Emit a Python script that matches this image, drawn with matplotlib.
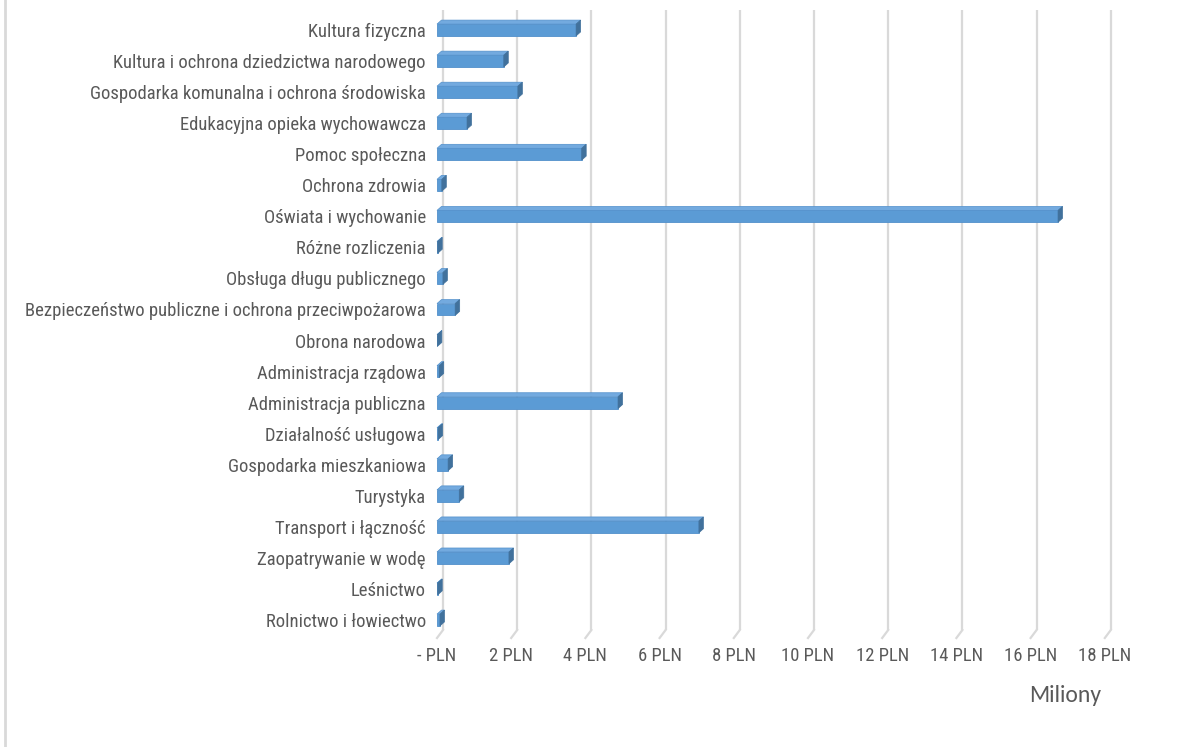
import matplotlib
matplotlib.use("Agg")
import matplotlib.pyplot as plt
from matplotlib import font_manager
from matplotlib.patches import Polygon
from matplotlib.lines import Line2D

categories = [
    "Rolnictwo i łowiectwo",
    "Leśnictwo",
    "Zaopatrywanie w wodę",
    "Transport i łączność",
    "Turystyka",
    "Gospodarka mieszkaniowa",
    "Działalność usługowa",
    "Administracja publiczna",
    "Administracja rządowa",
    "Obrona narodowa",
    "Bezpieczeństwo publiczne i ochrona przeciwpożarowa",
    "Obsługa długu publicznego",
    "Różne rozliczenia",
    "Oświata i wychowanie",
    "Ochrona zdrowia",
    "Pomoc społeczna",
    "Edukacyjna opieka wychowawcza",
    "Gospodarka komunalna i ochrona środowiska",
    "Kultura i ochrona dziedzictwa narodowego",
    "Kultura fizyczna",
]
values = [0.08, 0.02, 1.94, 7.06, 0.60, 0.30, 0.03, 4.88, 0.06, 0.01,
          0.49, 0.16, 0.02, 16.74, 0.13, 3.90, 0.81, 2.18, 1.80, 3.75]
tick_values = [0, 2, 4, 6, 8, 10, 12, 14, 16, 18]
tick_labels = ["- PLN"] + [f"{v} PLN" for v in tick_values[1:]]

avail = {f.name for f in font_manager.fontManager.ttflist}
narrow = "Liberation Sans"
for cand in ["Liberation Sans Narrow", "Arial Narrow", "Roboto Condensed", "PT Sans Narrow",
             "Archivo Narrow", "Pragati Narrow", "Asap Condensed"]:
    if cand in avail:
        narrow = cand
        break
calib = "Lato"
for cand in ["Carlito", "Calibri", "Lato"]:
    if cand in avail:
        calib = cand
        break

W, H = 1200, 747
fig = plt.figure(figsize=(12, 7.47), dpi=100)
fig.patch.set_facecolor("white")

# pick font size so the longest label is ~398 px wide
renderer = fig.canvas.get_renderer()
probe = fig.text(0, 0, categories[10], fontfamily=narrow, fontsize=13)
w = probe.get_window_extent(renderer).width
fs = min(14.0, 13 * 398 / w)
probe.remove()

ax_left, ax_right, ax_top, ax_bottom = 430, 1120, 10, 645
ax = fig.add_axes([ax_left / W, 1 - ax_bottom / H, (ax_right - ax_left) / W, (ax_bottom - ax_top) / H])
px_x = 37.1
px_y = 31.05
x0_px = 437
ax.set_xlim(-(x0_px - ax_left) / px_x, (ax_right - x0_px) / px_x)
ax.set_ylim(-(ax_bottom - 620) / px_y, 19 + (30 - ax_top) / px_y)
for s in ax.spines.values():
    s.set_visible(False)

grid_c = "#D9D9D9"
gdx = 6 / px_x
gy_floor = -(630 - 620) / px_y
gslant_y = -(638 - 620) / px_y
ytop = ax.get_ylim()[1]
for t in tick_values:
    ax.plot([t + gdx, t + gdx], [gy_floor, ytop], color=grid_c, lw=1.6, zorder=1, solid_capstyle="butt")
    ax.plot([t + gdx, t], [gy_floor, gslant_y], color=grid_c, lw=1.6, zorder=1)

ypos = list(range(len(categories)))
bh = 0.38
ddx = 4.5 / px_x
ddy = 4.0 / px_y
front_c = "#5B9BD5"
top_c = "#73AADF"
side_c = "#41719C"
ax.barh(ypos, values, height=bh, color=front_c, edgecolor="#5290CB", linewidth=0.6, zorder=3)
for y, v in zip(ypos, values):
    yt = y + bh / 2
    top = Polygon([(0, yt), (v, yt), (v + ddx, yt + ddy), (ddx, yt + ddy)],
                  closed=True, facecolor=top_c, edgecolor="#5290CB", lw=0.5, zorder=3)
    side = Polygon([(v, y - bh / 2), (v, yt), (v + ddx, yt + ddy), (v + ddx, y - bh / 2 + ddy)],
                   closed=True, facecolor=side_c, edgecolor=side_c, lw=0.5, zorder=3)
    ax.add_patch(top)
    ax.add_patch(side)

ax.set_yticks(ypos)
ax.set_yticklabels(categories, fontfamily=narrow, fontsize=fs, color="#595959")
ax.set_xticks(tick_values)
ax.set_xticklabels(tick_labels, fontfamily=narrow, fontsize=fs, color="#595959")
ax.tick_params(axis="y", length=0, pad=3)
ax.tick_params(axis="x", length=0, pad=1.5)

fig.text(1065 / W, 1 - 696 / H, "Miliony", fontfamily=calib, fontsize=17,
         color="#595959", ha="center", va="center")

fig.add_artist(Line2D([4.5 / W, 4.5 / W], [0, 1], transform=fig.transFigure, color="#D9D9D9", lw=2))

fig.savefig("out.png", dpi=100)
